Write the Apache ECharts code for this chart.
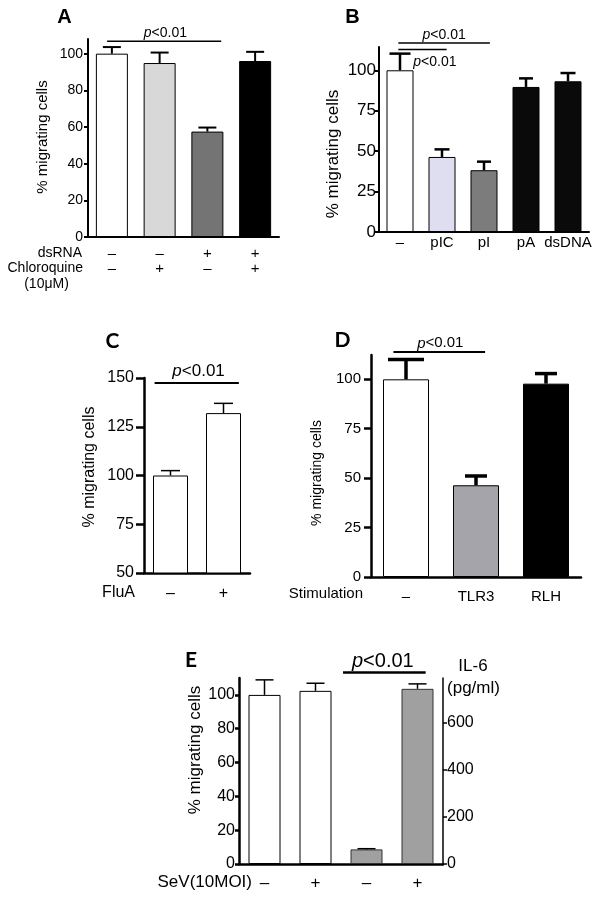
<!DOCTYPE html>
<html><head><meta charset="utf-8">
<script src="https://cdn.jsdelivr.net/npm/echarts@6/dist/echarts.min.js"></script>
<style>html,body{margin:0;padding:0;background:#fff}#c{width:604px;height:898px}</style>
</head><body><div id="c"></div>
<script>
// ---------- DATA ----------
// Panel A
const catsA = ['–\n–', '–\n+', '+\n–', '+\n+'];
const valsA = [100, 94.9, 57.5, 96];
const errsA = [3.6, 5.7, 2.2, 5.0];
const ticksA = [0, 20, 40, 60, 80, 100];
// Panel B
const catsB = ['–', 'pIC', 'pI', 'pA', 'dsDNA'];
const valsB = [100, 46.4, 38.2, 89.7, 93.2];
const errsB = [10.3, 4.7, 5.3, 5.3, 5.1];
const ticksB = [0, 25, 50, 75, 100];
// Panel C
const catsC = ['–', '+'];
const valsC = [100, 132];
const errsC = [2.5, 5];
const ticksC = [50, 75, 100, 125, 150];
// Panel D
const catsD = ['–', 'TLR3', 'RLH'];
const valsD = [100, 46.4, 97.8];
const errsD = [10, 4.7, 5.1];
const ticksD = [0, 25, 50, 75, 100];
// Panel E
const catsE = ['–', '+', '–', '+'];
const migE = [100, 102.4, null, null];
const migErrE = [8.9, 4.5, null, null];
const il6E = [null, null, 62, 744];
const il6ErrE = [null, null, 3, 21];
const ticksEL = [0, 20, 40, 60, 80, 100];
const ticksER = [0, 200, 400, 600];
const pText = 'p<0.01';

// ---------- STYLE / LAYOUT ----------
const FF = '"Liberation Sans", Arial, sans-serif';
const option = { animation: false, grid: [], xAxis: [], yAxis: [], series: [], graphic: [] };

function addGrid(g) { option.grid.push(Object.assign({ containLabel: false }, g)); return option.grid.length - 1; }
function addX(gi, cats, fs, margin, lw, lh) {
  option.xAxis.push({ gridIndex: gi, type: 'category', data: cats,
    axisLine: { show: true, lineStyle: { color: '#000', width: lw } }, axisTick: { show: false },
    axisLabel: { color: '#000', fontSize: fs, fontFamily: FF, margin: margin, interval: 0, lineHeight: lh || fs + 2 },
    splitLine: { show: false } });
  return option.xAxis.length - 1;
}
function addY(gi, min, max, ticks, fs, margin, lw, tickLen, pos) {
  option.yAxis.push({ gridIndex: gi, type: 'value', min: min, max: max, position: pos || 'left',
    axisLine: { show: true, lineStyle: { color: '#000', width: lw } },
    axisTick: { show: true, length: tickLen, customValues: ticks, lineStyle: { color: '#000', width: lw } },
    axisLabel: { customValues: ticks, color: '#000', fontSize: fs, fontFamily: FF, margin: margin },
    splitLine: { show: false } });
  return option.yAxis.length - 1;
}
function addBars(xi, yi, vals, colors, bw, borderColor) {
  option.series.push({ type: 'bar', xAxisIndex: xi, yAxisIndex: yi, barWidth: bw, barGap: '-100%', z: 2,
    data: vals.map((v, i) => v == null ? '-' : ({ value: v, itemStyle: { color: colors[i], borderColor: borderColor || '#000', borderWidth: 1 } })) });
}
function addErr(xi, yi, vals, errs, capW, lw) {
  const data = [];
  vals.forEach((v, i) => { if (v != null) data.push([i, v, errs[i]]); });
  option.series.push({ type: 'custom', xAxisIndex: xi, yAxisIndex: yi, z: 5, clip: false, data: data,
    renderItem: function (params, api) {
      const x = api.value(0), v = api.value(1), e = api.value(2);
      const b = api.coord([x, v]), t = api.coord([x, v + e]);
      const cw = Array.isArray(capW) ? capW[x] : capW;
      return { type: 'group', children: [
        { type: 'line', shape: { x1: b[0], y1: b[1], x2: t[0], y2: t[1] }, style: { stroke: '#000', lineWidth: lw } },
        { type: 'line', shape: { x1: t[0] - cw / 2, y1: t[1], x2: t[0] + cw / 2, y2: t[1] }, style: { stroke: '#000', lineWidth: lw } }
      ] };
    } });
}
// significance annotation: positions in (fractional category index, value)
function addSig(xi, yi, sigs, fs, lw) {
  option.series.push({ type: 'custom', xAxisIndex: xi, yAxisIndex: yi, z: 6, clip: false,
    data: sigs.map((s, i) => [0, s.y]), silent: true,
    renderItem: function (params, api) {
      const s = sigs[params.dataIndex];
      const p0 = api.coord([0, s.y]), p1 = api.coord([1, s.y]);
      const band = p1[0] - p0[0];
      const X = f => p0[0] + f * band;
      const ty = api.coord([0, s.ty])[1];
      const ch = [{ type: 'line', shape: { x1: X(s.x0), y1: p0[1], x2: X(s.x1), y2: p0[1] }, style: { stroke: '#000', lineWidth: lw } }];
      ch.push({ type: 'text', x: X(s.tx), y: ty, style: { text: '{i|p}{n|' + pText.slice(1) + '}', align: 'center', verticalAlign: 'middle',
        rich: { i: { font: 'italic ' + fs + 'px ' + FF, fill: '#000' }, n: { font: fs + 'px ' + FF, fill: '#000' } } } });
      return { type: 'group', children: ch };
    } });
}
function txt(text, x, y, font, align, rot) {
  option.graphic.push({ type: 'text', x: x, y: y, rotation: rot || 0, silent: true,
    style: { text: text, font: font, fill: '#000', align: align || 'center', verticalAlign: 'middle' } });
}

// ---------- PANEL A ----------
let g = addGrid({ left: 88, top: 39, width: 191, height: 198 });
let xi = addX(g, catsA, 15, 9, 2, 15);
let yi = addY(g, 0, 108, ticksA, 14, 5, 2, 4);
addBars(xi, yi, valsA, ['#ffffff', '#d8d8d8', '#747474', '#000000'], 32);
addErr(xi, yi, valsA, errsA, 18, 2);
addSig(xi, yi, [{ x0: -0.1, x1: 2.29, y: 106.8, tx: 1.12, ty: 111.1 }], 14, 1.5);
txt('A', 64.5, 17, 'bold 20px ' + FF);
txt('% migrating cells', 43, 137, '15px ' + FF, 'center', Math.PI / 2);
txt('dsRNA', 82, 253, '14px ' + FF, 'right');
txt('Chloroquine', 83, 268, '14px ' + FF, 'right');
txt('(10μM)', 46.5, 284, '14px ' + FF, 'center');

// ---------- PANEL B ----------
g = addGrid({ left: 379, top: 47, width: 210, height: 185 });
xi = addX(g, catsB, 15, 2, 2);
yi = addY(g, 0, 114.4, ticksB, 17, 3, 2, 4);
addBars(xi, yi, valsB, ['#ffffff', '#dedef0', '#7c7c7c', '#0a0a0a', '#0a0a0a'], 27);
addErr(xi, yi, valsB, errsB, [21, 15, 14, 14, 15], 2.5);
addSig(xi, yi, [{ x0: -0.04, x1: 2.14, y: 116.9, tx: 1.05, ty: 121.6 },
                { x0: -0.04, x1: 1.11, y: 112.8, tx: 0.83, ty: 105.1 }], 14, 1.5);
txt('B', 352.5, 17, 'bold 20px ' + FF);
txt('% migrating cells', 333, 154, '17px ' + FF, 'center', Math.PI / 2);

// ---------- PANEL C ----------
g = addGrid({ left: 144, top: 378, width: 106, height: 195 });
xi = addX(g, catsC, 16, 12, 2.5);
yi = addY(g, 50, 150, ticksC, 16, 10, 2.5, 8);
addBars(xi, yi, valsC, ['#ffffff', '#ffffff'], 35);
addErr(xi, yi, valsC, errsC, 19, 1.5);
addSig(xi, yi, [{ x0: -0.3, x1: 1.29, y: 147.4, tx: 0.53, ty: 153.4 }], 17, 2);
txt('C', 112.5, 341, 'bold 21px Lato, ' + FF);
txt('% migrating cells', 90, 467, '16px ' + FF, 'center', Math.PI / 2);
txt('FluA', 135, 593, '16px ' + FF, 'right');

// ---------- PANEL D ----------
g = addGrid({ left: 371, top: 355, width: 210, height: 222 });
xi = addX(g, catsD, 15, 11, 2.5);
yi = addY(g, 0, 112.3, ticksD, 15, 10, 2.5, 7);
addBars(xi, yi, valsD, ['#ffffff', '#a4a4aa', '#000000'], 46);
addErr(xi, yi, valsD, errsD, [36, 22, 22], 3.5);
addSig(xi, yi, [{ x0: -0.18, x1: 1.13, y: 113.8, tx: 0.49, ty: 118.2 }], 15, 2);
txt('D', 342.5, 340, 'bold 21px Lato, ' + FF);
txt('% migrating cells', 317, 473, '14px ' + FF, 'center', Math.PI / 2);
txt('Stimulation', 363, 594, '15px ' + FF, 'right');

// ---------- PANEL E ----------
g = addGrid({ left: 239, top: 678, width: 204, height: 186 });
xi = addX(g, catsE, 17, 9.5, 2.5);
yi = addY(g, 0, 110, ticksEL, 16, 4, 2.5, 4, 'left');
const yr = addY(g, 0, 790, ticksER, 16, 4, 1.5, 4, 'right');
addBars(xi, yi, migE, ['#ffffff', '#ffffff', '#ffffff', '#ffffff'], 32);
addBars(xi, yr, il6E, ['#a0a0a0', '#a0a0a0', '#a0a0a0', '#a0a0a0'], 32, '#333');
addErr(xi, yi, migE, migErrE, 18, 1.5);
addErr(xi, yr, il6E, il6ErrE, 18, 1.5);
addSig(xi, yi, [{ x0: 1.54, x1: 3.16, y: 113.2, tx: 2.32, ty: 119.7 }], 20, 2.5);
txt('E', 191, 660, 'bold 21px Lato, ' + FF);
txt('% migrating cells', 195, 750, '17px ' + FF, 'center', Math.PI / 2);
txt('SeV(10MOI)', 252, 882, '17px ' + FF, 'right');
txt('IL-6', 473, 666, '17px ' + FF, 'center');
txt('(pg/ml)', 473.5, 688, '17px ' + FF, 'center');

const chart = echarts.init(document.getElementById('c'), null, { renderer: 'canvas' });
chart.setOption(option);
</script></body></html>
